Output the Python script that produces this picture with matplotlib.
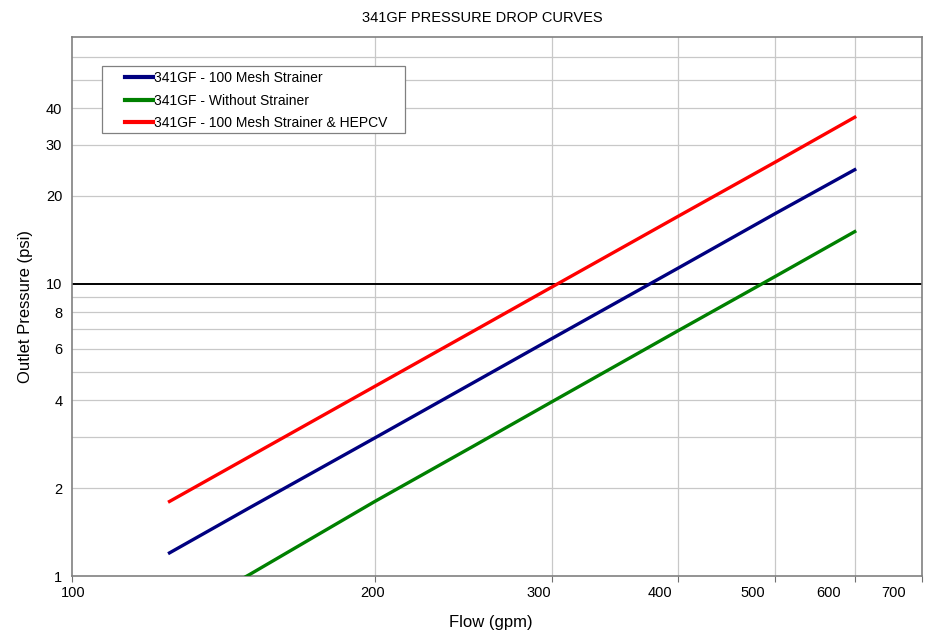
import matplotlib.pyplot as plt
import matplotlib.transforms as mtransforms
from matplotlib.patches import Rectangle

plt.rcParams['font.family'] = ['Liberation Sans', 'DejaVu Sans']

# flow (gpm) and outlet pressure (psi)
flow = [125, 150, 200, 250, 300, 400, 500, 600]
mesh = [1.20, 1.71, 2.97, 4.57, 6.50, 11.3, 17.4, 24.6]
no_strainer = [0.71, 1.01, 1.80, 2.77, 3.95, 6.9, 10.6, 15.1]
mesh_hepcv = [1.80, 2.56, 4.46, 6.86, 9.76, 17.0, 26.1, 37.2]

series = [
    ('341GF - 100 Mesh Strainer', mesh, '#000080'),
    ('341GF - Without Strainer', no_strainer, '#008000'),
    ('341GF - 100 Mesh Strainer & HEPCV', mesh_hepcv, '#ff0000'),
]

x_ticks = [100, 200, 300, 400, 500, 600, 700]
# Excel-style label drift to the left of the ticks (pixels)
x_label_shift = [1, -2, -13, -18, -22, -26, -29]
y_labels = [1, 2, 4, 6, 8, 10, 20, 30, 40]
y_grid = [2, 3, 4, 5, 6, 7, 8, 9, 20, 30, 40, 50, 60]

fig = plt.figure(figsize=(9.27, 6.33), dpi=100)
ax = fig.add_axes([0.0777, 0.090, 0.917, 0.8515])
ax.set_xscale('log')
ax.set_yscale('log')
ax.set_xlim(100, 700)
ax.set_ylim(1, 70)

for yv in y_grid:
    ax.axhline(yv, color='#c8c8c8', lw=0.9, zorder=0)
for xv in x_ticks[1:-1]:
    ax.axvline(xv, color='#c8c8c8', lw=0.9, zorder=0)
ax.axhline(10, color='black', lw=1.4, zorder=1)

for label, vals, col in series:
    ax.plot(flow, vals, color=col, lw=2.4, label=label, zorder=3)

ax.xaxis.set_minor_locator(plt.NullLocator())
ax.yaxis.set_minor_locator(plt.NullLocator())
ax.set_xticks(x_ticks)
ax.set_xticklabels([])
ax.tick_params(axis='x', length=4, color='#707070', direction='out')
ax.set_yticks(y_labels)
ax.set_yticklabels([str(v) for v in y_labels])
ax.tick_params(axis='y', length=0, pad=7, labelsize=10.5)

for xv, sh in zip(x_ticks, x_label_shift):
    off = mtransforms.ScaledTranslation(sh / 100, 0, fig.dpi_scale_trans)
    ax.text(xv, -0.018, str(xv), ha='center', va='top', fontsize=10.5,
            transform=ax.get_xaxis_transform() + off)

for sp in ax.spines.values():
    sp.set_color('#808080')
    sp.set_linewidth(1.2)

ax.set_ylabel('Outlet Pressure (psi)', fontsize=12, labelpad=9)
fig.text(0.52, 0.972, '341GF PRESSURE DROP CURVES', fontsize=10.5,
         ha='center', va='center')
fig.text(0.53, 0.017, 'Flow (gpm)', fontsize=12, ha='center', va='center')

# legend box drawn separately so the handles can sit further in
ax.add_patch(Rectangle((0.0353, 0.822), 0.3565, 0.124, transform=ax.transAxes,
                       facecolor='white', edgecolor='#808080', lw=0.9, zorder=4))
leg = ax.legend(loc='upper left', bbox_to_anchor=(0.062, 0.937), fontsize=10,
                frameon=False, handlelength=2.0, handletextpad=0.1,
                borderpad=0, labelspacing=0.62, borderaxespad=0)
leg.set_zorder(5)
for h in leg.get_lines():
    h.set_linewidth(3)

fig.savefig('out.png', dpi=100)
